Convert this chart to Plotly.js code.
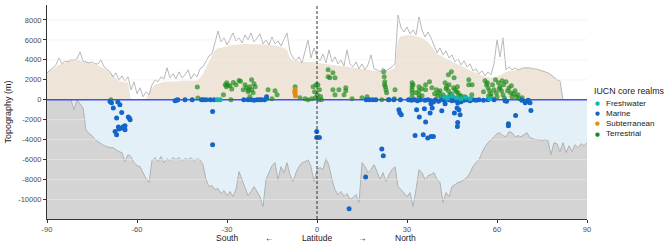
<!DOCTYPE html>
<html>
<head>
<meta charset="utf-8">
<script src="https://cdn.plot.ly/plotly-3.0.1.min.js"></script>
<style>html,body{margin:0;padding:0;background:#fff;}#chart{width:668px;height:243px;}</style>
</head>
<body>
<div id="chart"></div>
<script>
// ---- Data ----
const elevLat = [-90,-89,-88,-87,-86,-85,-84,-83,-82,-81,-80,-79,-78,-77,-76,-75,-74,-73,-72,-71,-70,-69,-68,-67,-66,-65,-64,-63,-62,-61,-60,-59,-58,-57,-56,-55,-54,-53,-52,-51,-50,-49,-48,-47,-46,-45,-44,-43,-42,-41,-40,-39,-38,-37,-36,-35,-34,-33,-32,-31,-30,-29,-28,-27,-26,-25,-24,-23,-22,-21,-20,-19,-18,-17,-16,-15,-14,-13,-12,-11,-10,-9,-8,-7,-6,-5,-4,-3,-2,-1,0,1,2,3,4,5,6,7,8,9,10,11,12,13,14,15,16,17,18,19,20,21,22,23,24,25,26,27,28,29,30,31,32,33,34,35,36,37,38,39,40,41,42,43,44,45,46,47,48,49,50,51,52,53,54,55,56,57,58,59,60,61,62,63,64,65,66,67,68,69,70,71,72,73,74,75,76,77,78,79,80,81,82];
// highest land elevation per latitude (grey line)
const maxElev = [2700,3000,3300,3500,4200,3600,3900,3800,4000,4000,4100,4800,3900,3800,3700,3800,3600,3600,4000,3300,3000,2800,2300,2700,2000,2400,1900,2300,1000,1800,600,1200,300,800,500,1500,2000,1800,2300,2100,3200,2200,2600,2100,2800,2200,2500,3000,2100,2600,2300,3100,3300,3800,4400,4600,5800,6900,5800,6200,5500,6100,6700,5900,6200,5700,6500,6000,6700,5800,6200,6600,5600,6000,5500,6300,5600,5900,5400,6000,6700,4800,4200,3900,4300,3700,4800,6000,4200,5200,4300,3900,4600,3700,5000,3800,4300,3600,4000,3400,5000,3600,3300,3800,3100,3600,3000,3500,4500,3100,3000,2800,3200,2900,3100,3300,3600,8500,7200,6800,7300,6600,7000,6500,8300,7000,6300,6800,6200,5400,4700,5200,4500,4900,4200,4500,3800,4100,3500,3900,3300,3600,2900,3100,2600,2900,2400,2800,2500,3600,6000,4300,6200,3000,3300,3000,3200,3000,3100,3200,3200,3200,3100,3100,3000,2900,2800,2700,2500,2200,2000,1900,0];
// typical land elevation per latitude (beige area)
const landElev = [2700,2900,3100,3300,3500,3600,3750,3850,3950,4000,4000,3950,3900,3800,3700,3650,3550,3450,3300,3150,2950,2700,2400,2100,1900,1800,1750,1700,0,0,0,0,0,0,800,1200,1500,1600,1700,1800,1800,1800,1850,1850,1850,1900,1900,1900,1900,1900,1900,2200,2600,3200,3800,4400,5000,5200,5200,5300,5400,5450,5500,5500,5550,5600,5600,5600,5600,5600,5600,5600,5550,5550,5500,5500,5450,5400,5300,5200,5000,4200,3900,3850,3800,3800,3800,3800,3750,3750,3700,3650,3600,3600,3550,3500,3450,3400,3400,3350,3300,3250,3200,3200,3150,3100,3050,3000,2950,2900,2800,2800,2800,2850,2900,3000,3300,6000,6400,6450,6500,6500,6450,6400,6300,6200,6000,5800,5400,5000,4600,4450,4300,4150,4000,3800,3650,3500,3400,3250,3100,2950,2800,2700,2550,2400,2300,2250,2200,2250,2300,2450,2600,2800,2850,2900,2950,3000,3100,3150,3200,3150,3100,3050,3000,2900,2800,2650,2500,2250,2000,1700,0];

const depthLat = [-90,-89,-88,-87,-86,-85,-84,-83,-82,-81,-80,-79,-78,-77,-76,-75,-74,-73,-72,-71,-70,-69,-68,-67,-66,-65,-64,-63,-62,-61,-60,-59,-58,-57,-56,-55,-54,-53,-52,-51,-50,-49,-48,-47,-46,-45,-44,-43,-42,-41,-40,-39,-38,-37,-36,-35,-34,-33,-32,-31,-30,-29,-28,-27,-26,-25,-24,-23,-22,-21,-20,-19,-18,-17,-16,-15,-14,-13,-12,-11,-10,-9,-8,-7,-6,-5,-4,-3,-2,-1,0,1,2,3,4,5,6,7,8,9,10,11,12,13,14,15,16,17,18,19,20,21,22,23,24,25,26,27,28,29,30,31,32,33,34,35,36,37,38,39,40,41,42,43,44,45,46,47,48,49,50,51,52,53,54,55,56,57,58,59,60,61,62,63,64,65,66,67,68,69,70,71,72,73,74,75,76,77,78,79,80,81,82,83,84,85,86,87,88,89,90];
// deepest ocean floor per latitude (grey lower line)
const depthElev = [0,0,0,0,0,0,0,0,0,-1000,0,-400,-800,-3000,-3400,-3600,-4000,-4200,-4400,-4600,-4700,-4800,-4800,-5000,-5200,-5300,-6200,-5500,-5700,-6300,-6600,-6700,-7300,-7900,-8300,-6100,-5800,-6200,-5700,-6300,-5900,-6100,-5800,-6000,-5800,-6100,-5900,-6000,-5800,-6100,-5900,-6000,-6500,-8000,-8700,-8600,-9000,-8900,-9400,-9100,-9600,-9200,-9700,-9000,-7200,-8000,-9000,-9600,-9200,-8700,-9200,-9700,-10700,-8000,-7300,-6600,-6300,-8000,-6700,-7300,-6300,-7500,-8200,-7300,-6700,-6300,-6200,-6000,-6700,-8200,-7000,-6800,-7000,-5900,-6600,-8000,-9000,-9500,-9200,-9700,-9400,-10000,-9800,-9500,-10300,-6300,-6700,-7300,-7000,-6500,-7200,-8000,-7300,-8200,-7500,-7000,-6700,-8700,-9000,-9400,-9700,-9300,-10700,-9000,-7000,-7300,-8000,-7600,-7500,-7300,-8000,-8300,-10300,-9300,-9700,-8700,-8500,-8300,-8200,-8000,-7800,-7300,-6700,-6300,-6000,-5300,-4700,-4300,-4000,-3600,-3400,-3300,-3600,-3700,-3200,-3300,-3700,-3600,-3700,-3500,-3300,-3800,-3900,-4000,-4000,-4100,-4000,-4100,-5500,-4300,-4400,-5200,-4300,-5300,-4600,-5200,-4500,-4800,-4400,-4600,-4300];

// species occurrences by IUCN core realm
const marineLat  = [-69,-66.4,-65.7,-67.9,-65.1,-66.8,-62.9,-62.3,-62.5,-64,-64.9,-66,-67.3,-64,-66.8,-66.2,-64.6,-68.5,
  -47.3,-46.8,-46.4,-44,-41.6,-38.5,-37.9,-37,-35.6,-34.3,-34.8,-34.8,
  -24.4,-23,-22,-21,-20,-19.2,-18.5,-17.5,-16.8,
  -0.1,-0.1,0.8,
  16.4,17.4,18.5,19.6,24,25.6,27.8,27.3,27.6,28.1,21.6,22.1,16.2,10.7,
  33.2,35.8,34.1,36.2,38,38.4,37.7,41.6,38.8,42.7,45.8,46.9,47.3,47.7,46.7,46.9,46.8,32.7,35.4,36.9,38,38.8,
  30.5,31.5,32.5,33.5,34.5,36,37,38,39.5,40.5,41.5,42.5,44,45,46,47,48,49,50,51,52,53,54,55.5,57,59,
  62.7,63.2,68.3,69.4,69.9,70.4,71,66.2,63.8,63.8,71.3];
const marineElev = [-170,-230,-500,-830,-1270,-1830,-1730,-2000,-1850,-2600,-2830,-2930,-3170,-3000,-3500,-2730,-2700,-300,
  -100,-50,0,0,0,0,0,0,0,0,-1170,-4500,
  0,0,0,-50,0,0,0,0,300,
  -3170,-3770,-3770,
  0,0,0,0,0,0,0,-1000,-1300,-1500,-4930,-5600,-7730,-10930,
  -1000,-900,-1730,-2230,-400,-830,-1330,-1100,-230,-400,-1330,-330,-1000,-1500,-830,-2270,-2670,-3570,-3500,-3830,-3670,-3670,
  0,-50,0,-100,0,-50,0,-100,0,-150,0,-50,0,-100,-50,0,-200,-50,0,-100,0,-50,0,-50,0,0,
  -100,-150,-50,-300,-150,-50,-300,-1570,-2400,-2600,-1070];

const terrLat  = [-68.7,-39.9,-39.7,-31.2,-30.6,-30.2,-29.7,-30.1,-29,-27.9,-28.4,-26,-25.5,-28.7,-27,
  -24.6,-23.5,-22.4,-21.8,-23,-21.3,-20.6,-22.4,-24,-21,-22.8,-21.8,-16.3,-14,-13.3,-15,-16.8,
  -7.3,-5.7,-4,-3,-1.7,-1.3,-0.3,-0.8,0.3,0.8,0.1,1.2,1.5,0.6,-0.5,
  3.7,5.3,6,4.3,3.7,5.3,6,7.3,9.6,9.6,9,11.7,15,16.7,21.6,23.7,25.8,
  22.2,22.4,22.6,22.8,23,23.2,22.5,26,
  31.7,31.7,31.7,31.7,31.7,32,33,34,34,34,34,35,35,36.2,36.2,37.5,38.3,39.2,39.8,40.6,41.5,
  40.2,41,42,43,44.8,45.2,46,47,48,46.8,44,
  42.7,43.2,43.8,44.3,43.5,43.8,44.8,45.7,45.5,46.5,47.5,48.5,49.3,51.6,50.6,50.6,51.7,
  55.5,56,56.5,57,57.2,57.5,58,58,58.5,59,59.8,60,56.8,59.5,60.5,60.8,61,61.5,61.7,62,62.2,62.5,63,63.5,64,64.5,64.8,65,65.5,66,66.5,67,68.4,67.5];
const terrElev = [0,1270,170,500,1500,1300,1450,1700,1400,1730,1070,1930,1850,0,1500,
  1000,1200,1300,2000,800,700,1300,300,1500,1600,1000,1000,1000,900,500,100,100,
  1300,200,100,0,100,1300,1500,800,1500,1000,500,330,0,0,200,
  3000,2700,2200,2200,2300,1000,500,1000,1200,900,500,100,200,300,0,0,100,
  2800,2300,1800,1300,1000,700,1500,1000,
  1700,1300,1000,700,300,1500,700,1300,900,500,200,400,1100,1500,1000,1800,1200,600,1000,700,300,
  400,900,500,1100,600,300,1000,700,400,1300,1500,
  1700,1300,900,500,200,2500,2800,2200,1200,800,400,100,300,500,1500,2000,1500,
  800,1900,1500,1200,400,900,600,300,1500,1000,700,300,1700,2000,1700,1100,1300,900,1900,500,1500,150,1800,900,1200,700,1400,300,600,900,300,500,200,100];

const freshLat  = [-32.3,-33.2,42.5,43.5,45,46.5,48,49.5,51,57.5];
const freshElev = [0,0,300,150,400,200,100,250,100,100];

const subLat  = [-7.3,-7.4,-7.3,-7.2];
const subElev = [1000,830,670,400];

const realmNames = ['Freshwater','Marine','Subterranean','Terrestrial'];
const xTicks = [-90,-60,-30,0,30,60,90];
const yTicks = [-10000,-8000,-6000,-4000,-2000,0,2000,4000,6000,8000];

// ---- Styling ----
const xRange = [-90, 90];
const yRange = [-11950, 9500];
const colors = {Freshwater:'#16b2ae', Marine:'#1565c8', Subterranean:'#e38b12', Terrestrial:'#178a17'};
const FONT = 'Liberation Sans, Arial, sans-serif';

const traces = [];
// base for ocean-floor fill
traces.push({x: depthLat, y: depthLat.map(() => yRange[0]), mode:'lines', line:{width:0, color:'rgba(0,0,0,0)'}, showlegend:false, hoverinfo:'skip'});
traces.push({x: depthLat, y: depthElev, mode:'lines', fill:'tonexty', fillcolor:'#d4d4d4', line:{color:'#ababab', width:0.9}, showlegend:false, hoverinfo:'skip'});
traces.push({x: elevLat, y: landElev, mode:'lines', fill:'tozeroy', fillcolor:'#eee4d8', line:{width:0, color:'rgba(0,0,0,0)'}, showlegend:false, hoverinfo:'skip'});
traces.push({x: elevLat, y: maxElev, mode:'lines', line:{color:'#b0b0b0', width:0.9}, showlegend:false, hoverinfo:'skip'});
// horizontal gridlines on top of the areas
const gx = [], gy = [];
yTicks.filter(v => v !== 0).forEach(v => { gx.push(xRange[0], xRange[1], null); gy.push(v, v, null); });
traces.push({x: gx, y: gy, mode:'lines', line:{color:'rgba(236,236,236,0.8)', width:0.8}, showlegend:false, hoverinfo:'skip'});
// sea level line
traces.push({x: xRange, y: [0, 0], mode:'lines', line:{color:'#4b4bf5', width:1.4}, showlegend:false, hoverinfo:'skip'});

traces.push({x: terrLat, y: terrElev, mode:'markers', name:'Terrestrial', marker:{size:5, color:'rgba(23,138,23,0.68)'}, showlegend:false});
traces.push({x: marineLat, y: marineElev, mode:'markers', name:'Marine', marker:{size:5, color:colors.Marine}, showlegend:false});
traces.push({x: freshLat, y: freshElev, mode:'markers', name:'Freshwater', marker:{size:5, color:colors.Freshwater}, showlegend:false});
traces.push({x: subLat, y: subElev, mode:'markers', name:'Subterranean', marker:{size:5, color:colors.Subterranean}, showlegend:false});

// compact legend drawn as annotations
const legY = [0.541, 0.494, 0.447, 0.399];
const annotations = [
  {xref:'paper', yref:'paper', x:1.009, y:0.600, xanchor:'left', yanchor:'middle', text:'IUCN core realms', showarrow:false, font:{family:FONT, size:8.8, color:'#1a1a1a'}}
];
realmNames.forEach((n, i) => {
  annotations.push({xref:'paper', yref:'paper', x:1.02, y:legY[i], xanchor:'center', yanchor:'middle', text:'●', showarrow:false, font:{family:'DejaVu Sans', size:5.5, color:colors[n]}});
  annotations.push({xref:'paper', yref:'paper', x:1.0315, y:legY[i], xanchor:'left', yanchor:'middle', text:n, showarrow:false, font:{family:FONT, size:8, color:'#1a1a1a'}});
});
// direction labels under the x axis
[['South', -30], ['←', -16], ['→', 15], ['North', 29.5]].forEach(([t, x]) => {
  annotations.push({xref:'x', yref:'paper', x:x, y:-0.09, xanchor:'center', yanchor:'middle', text:t, showarrow:false, font:{family:FONT, size:8.5, color:'#1a1a1a'}});
});

const layout = {
  width:668, height:243,
  margin:{l:47, r:81, t:5, b:24},
  paper_bgcolor:'#ffffff', plot_bgcolor:'#ffffff',
  font:{family:FONT, size:7.5, color:'#4d4d4d'},
  showlegend:false,
  xaxis:{range:xRange, tickvals:xTicks, ticktext:xTicks.map(String), showgrid:false, zeroline:false,
    showline:true, linecolor:'#333333', linewidth:1, ticks:'outside', ticklen:3, tickcolor:'#333333',
    tickfont:{family:FONT, size:7.5, color:'#4d4d4d'},
    title:{text:'Latitude', font:{family:FONT, size:8.5, color:'#1a1a1a'}, standoff:2}},
  yaxis:{range:yRange, tickvals:yTicks, ticktext:yTicks.map(String), showgrid:false, zeroline:false,
    showline:true, linecolor:'#333333', linewidth:1, ticks:'outside', ticklen:3, tickcolor:'#333333',
    tickfont:{family:FONT, size:7.5, color:'#4d4d4d'},
    title:{text:'Topography (m)', font:{family:FONT, size:9, color:'#1a1a1a'}, standoff:4}},
  shapes:[
    {type:'rect', layer:'below', xref:'x', yref:'y', x0:xRange[0], x1:xRange[1], y0:yRange[0], y1:0, fillcolor:'#e3f0f8', line:{width:0}},
    {type:'line', layer:'above', xref:'x', yref:'paper', x0:0, x1:0, y0:0, y1:1, line:{color:'#333333', width:1, dash:'3px,2px'}}
  ],
  annotations: annotations
};

Plotly.newPlot('chart', traces, layout, {staticPlot:true, displayModeBar:false});
</script>
</body>
</html>
